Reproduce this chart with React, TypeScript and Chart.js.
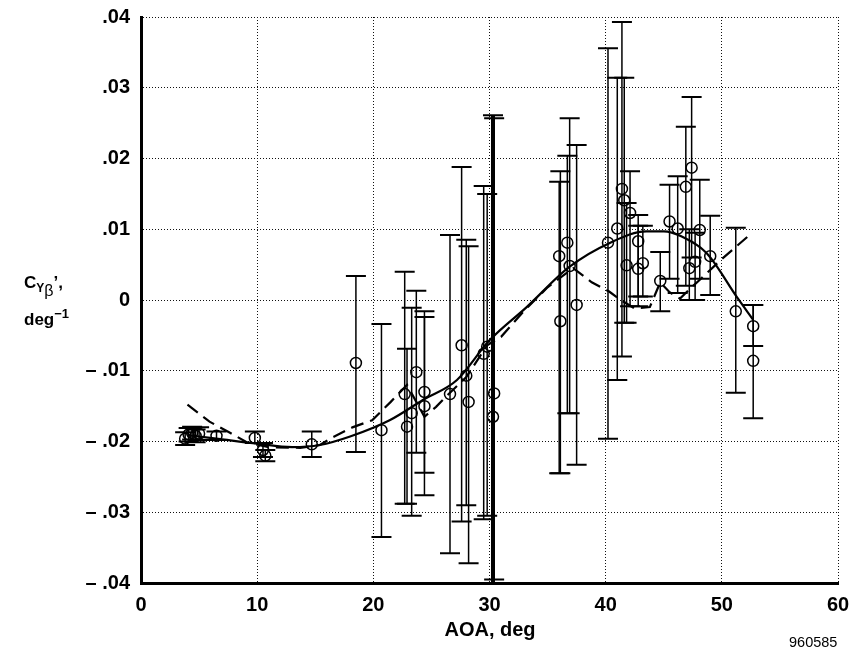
import React, { useEffect, useRef } from 'react';
import { Chart, registerables } from 'chart.js';

Chart.register(...registerables);

// ---- data ----
const aoa = [
  3.8, 4.1, 4.4, 4.7, 5.0, 6.5, 9.8, 10.5, 10.7, 14.7,
  18.5, 20.7, 22.7, 22.9, 23.3, 23.7, 24.4, 24.4,
  26.6, 27.6, 28.0, 28.2, 29.5, 29.8, 30.3, 30.4,
  36.0, 36.1, 36.7, 36.9, 37.5,
  40.2, 41.0, 41.4, 41.6, 41.8, 42.1, 42.8, 42.8, 43.2, 44.7,
  45.5, 46.2, 46.9, 47.2, 47.4, 47.7, 48.1, 49.0, 51.2, 52.7, 52.7,
];
const cyb = [
  -0.0196, -0.0190, -0.0188, -0.0192, -0.0189, -0.0192, -0.0195, -0.0212, -0.0220, -0.0204,
  -0.0089, -0.0184, -0.0133, -0.0179, -0.0160, -0.0102, -0.0130, -0.0150,
  -0.0133, -0.0064, -0.0107, -0.0144, -0.0076, -0.0066, -0.0165, -0.0132,
  0.0062, -0.0030, 0.0081, 0.0048, -0.0007,
  0.0081, 0.0101, 0.0157, 0.0141, 0.0049, 0.0123, 0.0083, 0.0044, 0.0052, 0.0027,
  0.0111, 0.0101, 0.0160, 0.0045, 0.0187, 0.0054, 0.0099, 0.0062, -0.0016, -0.0037, -0.0086,
];
const errLow = [
  -0.0205, -0.0200, -0.0197, -0.0201, -0.0198, -0.0198, -0.0202, -0.0222, -0.0228, -0.0222,
  -0.0215, -0.0335, -0.0288, -0.0288, -0.0305, -0.0216, -0.0244, -0.0276,
  -0.0358, -0.0313, -0.0290, -0.0372, -0.0310, -0.0305, -0.0400, -0.0395,
  -0.0245, -0.0245, -0.0160, -0.0160, -0.0233,
  -0.0196, -0.0113, -0.0080, -0.0032, -0.0032, -0.0009, 0.0005, -0.0009, 0.0005, -0.0016,
  0.0030, 0.0010, 0.0020, 0.0000, 0.0060, 0.0000, 0.0030, 0.0007, -0.0131, -0.0065, -0.0167,
];
const errHigh = [
  -0.0187, -0.0181, -0.0179, -0.0183, -0.0180, -0.0186, -0.0186, -0.0202, -0.0212, -0.0186,
  0.0034, -0.0034, 0.0040, -0.0069, -0.0011, 0.0013, -0.0016, -0.0024,
  0.0092, 0.0188, 0.0085, 0.0076, 0.0161, 0.0150, 0.0261, 0.0257,
  0.0167, 0.0182, 0.0204, 0.0257, 0.0219,
  0.0356, 0.0314, 0.0393, 0.0314, 0.0137, 0.0182, 0.0120, 0.0105, 0.0105, 0.0068,
  0.0163, 0.0175, 0.0245, 0.0100, 0.0287, 0.0095, 0.0170, 0.0119, 0.0102, -0.0007, -0.0007,
];

// solid faired curve
const fitAoa = [4, 7, 10, 13, 15.4, 18, 21.4, 24.3, 27.2, 30, 33.2, 36.9, 40.4, 43.5, 45, 46.5, 48.7, 51.3, 52.7];
const fitCyb = [-0.0191, -0.0197, -0.0203, -0.0208, -0.0205, -0.0193, -0.0170, -0.0141, -0.0113, -0.0057, -0.0010, 0.0047, 0.0081, 0.0097, 0.0097, 0.0090, 0.0066, 0.0004, -0.0028];

// dashed line
const meanAoa = [4, 5.9, 7.7, 9.1, 11, 13.7, 15.4, 16.5, 18.2, 19.9, 21.5, 22.9, 24.4, 25.4, 26.6, 28.0, 29.8, 31, 33, 35, 37.2, 38.8, 40.3, 41.3, 42.5, 43.8, 44.7, 45.5, 46.4, 47.2, 48.2, 50, 52.6];
const meanCyb = [-0.0148, -0.0172, -0.0188, -0.0201, -0.0208, -0.0209, -0.0205, -0.0194, -0.0180, -0.0170, -0.0144, -0.0120, -0.0165, -0.0151, -0.0131, -0.0109, -0.0064, -0.0052, -0.0015, 0.0018, 0.0045, 0.0025, 0.0012, 0.0000, -0.0012, -0.0010, 0.0025, 0.0011, 0.0002, 0.0015, 0.0030, 0.0058, 0.0095];

const xTickLabels = ['0', '10', '20', '30', '40', '50', '60'];
const yTickLabels = ['\u2013 .04', '\u2013 .03', '\u2013 .02', '\u2013 .01', '0', '.01', '.02', '.03', '.04'];

// ---- style ----
const FONT = '"Liberation Sans", Arial, Helvetica, sans-serif';
const HEAVY_BAR_AOA = 30.3;

const errorBarPlugin = {
  id: 'errorBars',
  beforeDatasetsDraw(chart: any) {
    const { ctx, scales } = chart;
    const x = scales.x;
    const y = scales.y;
    ctx.save();
    ctx.strokeStyle = '#000';
    for (let i = 0; i < aoa.length; i++) {
      const px = x.getPixelForValue(aoa[i]);
      const pl = y.getPixelForValue(errLow[i]);
      const ph = y.getPixelForValue(errHigh[i]);
      ctx.lineWidth = aoa[i] === HEAVY_BAR_AOA ? 4 : 1.5;
      ctx.beginPath();
      ctx.moveTo(px, pl);
      ctx.lineTo(px, ph);
      ctx.stroke();
      ctx.lineWidth = 2;
      ctx.beginPath();
      ctx.moveTo(px - 10, pl);
      ctx.lineTo(px + 10, pl);
      ctx.moveTo(px - 10, ph);
      ctx.lineTo(px + 10, ph);
      ctx.stroke();
    }
    ctx.restore();
  },
};

export default function App() {
  const ref = useRef<HTMLCanvasElement | null>(null);

  useEffect(() => {
    if (!ref.current) return;
    const chart = new Chart(ref.current, {
      type: 'scatter',
      data: {
        datasets: [
          {
            label: 'data',
            data: aoa.map((a, i) => ({ x: a, y: cyb[i] })),
            showLine: false,
            pointRadius: 5.5,
            pointBorderWidth: 1.5,
            pointBorderColor: '#000',
            pointBackgroundColor: 'rgba(0,0,0,0)',
          },
          {
            label: 'fit',
            data: fitAoa.map((a, i) => ({ x: a, y: fitCyb[i] })),
            showLine: true,
            borderColor: '#000',
            borderWidth: 2.2,
            pointRadius: 0,
            cubicInterpolationMode: 'monotone',
          },
          {
            label: 'mean',
            data: meanAoa.map((a, i) => ({ x: a, y: meanCyb[i] })),
            showLine: true,
            borderColor: '#000',
            borderWidth: 2.2,
            borderDash: [13, 7],
            pointRadius: 0,
            tension: 0,
          },
        ],
      },
      options: {
        animation: false,
        responsive: false,
        maintainAspectRatio: false,
        layout: { padding: { left: 0, top: 17, right: 16, bottom: 0 } },
        plugins: { legend: { display: false }, tooltip: { enabled: false } },
        scales: {
          x: {
            type: 'linear',
            min: 0,
            max: 60,
            afterFit: (s: any) => { s.height = 72; s.paddingLeft = 0; s.paddingRight = 0; },
            ticks: {
              stepSize: 10,
              padding: 10,
              color: '#000',
              font: { family: FONT, weight: 'bold', size: 20 },
              callback: (_v: any, i: number) => xTickLabels[i],
            },
            grid: { color: '#111', lineWidth: 1, drawTicks: false },
            border: { display: true, color: '#000', width: 3, dash: [1, 2] },
          },
          y: {
            type: 'linear',
            min: -0.04,
            max: 0.04,
            afterFit: (s: any) => { s.width = 141; s.paddingTop = 0; s.paddingBottom = 0; },
            ticks: {
              stepSize: 0.01,
              padding: 11,
              color: '#000',
              font: { family: FONT, weight: 'bold', size: 20 },
              callback: (_v: any, i: number) => yTickLabels[i],
            },
            grid: { color: '#111', lineWidth: 1, drawTicks: false },
            border: { display: true, color: '#000', width: 3, dash: [1, 2] },
          },
        },
      },
      plugins: [errorBarPlugin],
    } as any);
    return () => chart.destroy();
  }, []);

  const bold = { fontFamily: FONT, fontWeight: 'bold' as const, color: '#000' };

  return (
    <div style={{ position: 'fixed', left: 0, top: 0, width: 854, height: 655, background: '#fff' }}>
      <canvas ref={ref} width={854} height={655} style={{ position: 'absolute', left: 0, top: 0 }} />
      <div style={{ ...bold, position: 'absolute', left: 24, top: 274, fontSize: 17, whiteSpace: 'nowrap', lineHeight: 1 }}>
        <span style={{ fontSize: 17 }}>C</span>
        <span style={{ fontSize: 12, position: 'relative', top: 4 }}>Y</span>
        <span style={{ fontSize: 16, fontWeight: 'normal', position: 'relative', top: 8 }}>β</span>
        <span>’,</span>
      </div>
      <div style={{ ...bold, position: 'absolute', left: 24, top: 311, fontSize: 17, whiteSpace: 'nowrap', lineHeight: 1 }}>
        deg<span style={{ fontSize: 13, position: 'relative', top: -7 }}>−1</span>
      </div>
      <div style={{ ...bold, position: 'absolute', left: 440, top: 619, width: 100, textAlign: 'center', fontSize: 20, whiteSpace: 'nowrap', lineHeight: 1 }}>
        AOA, deg
      </div>
      <div style={{ fontFamily: FONT, position: 'absolute', left: 789, top: 635, fontSize: 14.5, color: '#000', lineHeight: 1 }}>
        960585
      </div>
    </div>
  );
}
